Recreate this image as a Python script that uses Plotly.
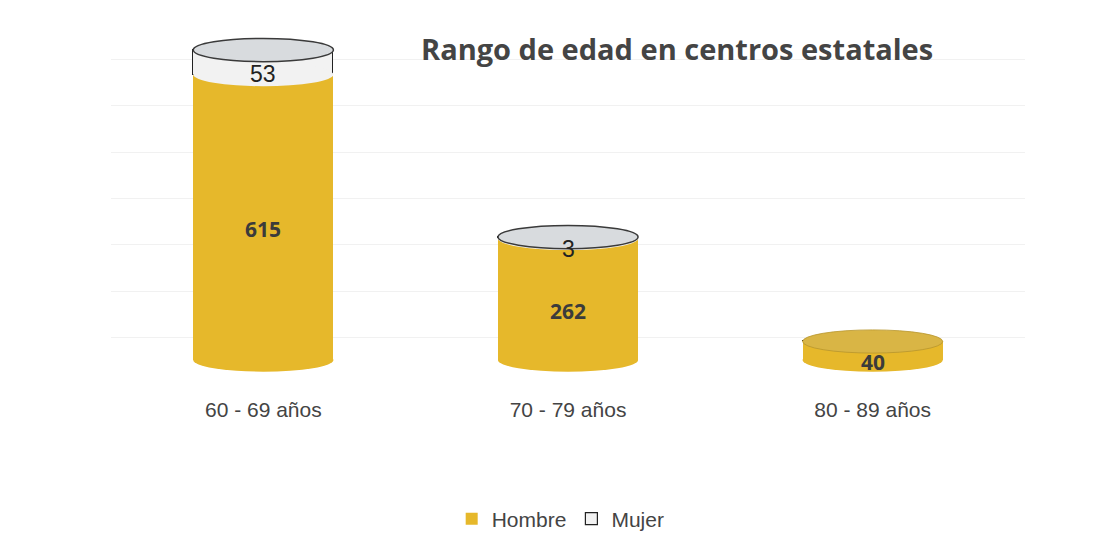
import plotly.graph_objects as go

categories = ["60 - 69 años", "70 - 79 años", "80 - 89 años"]
hombre = [615, 262, 40]
mujer = [53, 3, 0]

title_text = "Rango de edad en centros estatales"

GOLD = "#E6B82B"
GOLD_CAP = "#D9B545"
WHITE_BAND = "#F2F2F2"
CAP_GRAY = "#D8DBDE"
BAR_W = 0.46
RY = 25  # ellipse half-height in data units (3D cap look)

xpos = list(range(len(categories)))

fig = go.Figure()
fig.add_trace(go.Bar(
    x=xpos, y=hombre, name="Hombre", width=BAR_W,
    marker=dict(color=GOLD, line=dict(width=0)),
))
fig.add_trace(go.Bar(
    x=xpos, y=mujer, name="Mujer", width=BAR_W,
    marker=dict(color=WHITE_BAND, line=dict(width=1.2, color="#222222")),
))

shapes = []
annotations = []
for i, (h, m) in enumerate(zip(hombre, mujer)):
    x0, x1 = i - BAR_W / 2, i + BAR_W / 2
    # rounded bottom
    shapes.append(dict(type="circle", xref="x", yref="y", layer="below",
                       x0=x0, x1=x1, y0=-RY, y1=RY,
                       fillcolor=GOLD, line=dict(width=0)))
    top = h + m
    if m > 0:
        # curved lower edge of the Mujer band
        shapes.append(dict(type="circle", xref="x", yref="y", layer="above",
                           x0=x0, x1=x1, y0=h - RY, y1=h + RY,
                           fillcolor=WHITE_BAND, line=dict(width=0)))
        shapes.append(dict(type="circle", xref="x", yref="y", layer="above",
                           x0=x0, x1=x1, y0=top - RY, y1=top + RY,
                           fillcolor=CAP_GRAY, line=dict(width=1.5, color="#3a3a3a")))
        annotations.append(dict(x=i, y=h + m / 2 - RY, xref="x", yref="y",
                                text=str(m), showarrow=False,
                                font=dict(family="Liberation Sans, Arial", size=23, color="#222222")))
    else:
        shapes.append(dict(type="circle", xref="x", yref="y", layer="above",
                           x0=x0, x1=x1, y0=top - RY, y1=top + RY,
                           fillcolor=GOLD_CAP, line=dict(width=0.8, color="#B8962C")))
    annotations.append(dict(x=i, y=h / 2 - RY, xref="x", yref="y",
                            text=f"<b>{h}</b>", showarrow=False,
                            font=dict(family="Open Sans, Noto Sans", size=21, color="#3b3b3b")))

annotations.append(dict(x=0.619, y=0.917, xref="paper", yref="paper",
                        text=f"<b>{title_text}</b>", showarrow=False,
                        xanchor="center", yanchor="middle",
                        font=dict(family="Open Sans, Noto Sans", size=29, color="#444444")))

fig.update_layout(
    width=1094, height=554,
    margin=dict(l=103, r=77, t=10, b=182),
    paper_bgcolor="white", plot_bgcolor="white",
    barmode="stack", bargap=0,
    showlegend=True,
    legend=dict(orientation="h", x=0.492, xanchor="center", y=-0.384, yanchor="middle",
                font=dict(family="Liberation Sans, Arial", size=21, color="#444444"),
                itemwidth=30, traceorder="normal"),
    shapes=shapes,
    annotations=annotations,
    xaxis=dict(range=[-0.5, 2.5], tickvals=xpos, ticktext=categories,
               showgrid=False, zeroline=False, showline=False, ticks="",
               ticklabelstandoff=15,
               tickfont=dict(family="Liberation Sans, Arial", size=21, color="#444444")),
    yaxis=dict(range=[-43, 737], showticklabels=False, zeroline=False, showline=False,
               showgrid=True, gridcolor="#F1F1F1", gridwidth=1, tick0=48, dtick=100),
)

fig.write_html("out.html")
